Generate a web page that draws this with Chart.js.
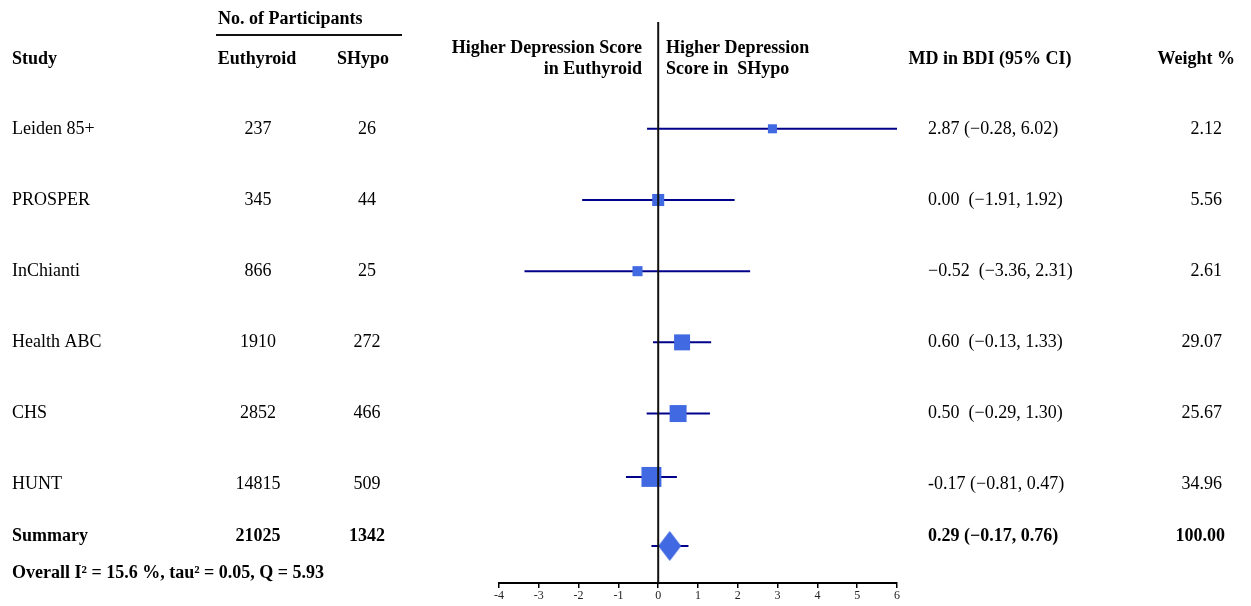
<!DOCTYPE html>
<html>
<head>
<meta charset="utf-8">
<script src="https://cdn.jsdelivr.net/npm/chart.js@4"></script>
<style>
  body { margin: 0; background: #fff; }
  canvas { display: block; }
</style>
</head>
<body>
<canvas id="myChart" width="1251" height="606"></canvas>
<script>
// data
const studies = ['Leiden 85+', 'PROSPER', 'InChianti', 'Health ABC', 'CHS', 'HUNT'];
const euthyroid = [237, 345, 866, 1910, 2852, 14815];
const shypo = [26, 44, 25, 272, 466, 509];
const md = [2.87, 0.00, -0.52, 0.60, 0.50, -0.17];
const lower = [-0.28, -1.91, -3.36, -0.13, -0.29, -0.81];
const upper = [6.02, 1.92, 2.31, 1.33, 1.30, 0.47];
const weight = ['2.12', '5.56', '2.61', '29.07', '25.67', '34.96'];
const ciLabels = ['2.87 (\u22120.28, 6.02)', '0.00  (\u22121.91, 1.92)', '\u22120.52  (\u22123.36, 2.31)',
                  '0.60  (\u22120.13, 1.33)', '0.50  (\u22120.29, 1.30)', '-0.17 (\u22120.81, 0.47)'];
const summary = { euthyroid: 21025, shypo: 1342, md: 0.29, lower: -0.17, upper: 0.76, label: '0.29 (\u22120.17, 0.76)', weight: '100.00' };
const heterogeneity = 'Overall I\u00b2 = 15.6 %, tau\u00b2 = 0.05, Q = 5.93';
const xTicks = [-4, -3, -2, -1, 0, 1, 2, 3, 4, 5, 6];

// row positions (marks and text are not quite aligned in the original)
const textRows = [0, 1, 2, 3, 4, 5];
const markRows = [0, 1, 2, 3, 4, 4.89];
const summaryTextRow = 5.73;
const summaryMarkRow = 5.86;
const squareRadius = [6.4, 8.5, 7.1, 11.3, 12, 14.1];

const navy = '#00008B';
const blue = '#4169E1';
const serif = '"Liberation Serif", "Times New Roman", serif';

// diamond marker for the summary
const diamond = document.createElement('canvas');
diamond.width = 23; diamond.height = 30;
(function () {
  const c = diamond.getContext('2d');
  c.fillStyle = blue;
  c.beginPath();
  c.moveTo(11.5, 0); c.lineTo(23, 15); c.lineTo(11.5, 30); c.lineTo(0, 15);
  c.closePath(); c.fill();
})();

const ciSets = studies.map((s, i) => ({
  type: 'line',
  data: [{ x: lower[i], y: markRows[i] }, { x: upper[i], y: markRows[i] }],
  borderColor: navy, borderWidth: 2, pointRadius: 0, order: 2
}));
ciSets.push({
  type: 'line',
  data: [{ x: summary.lower, y: summaryMarkRow }, { x: summary.upper, y: summaryMarkRow }],
  borderColor: navy, borderWidth: 2, pointRadius: 0, order: 2
});

const tablePlugin = {
  id: 'table',
  afterDatasetsDraw(chart) {
    const ctx = chart.ctx;
    const x = chart.scales.x, y = chart.scales.y;
    const area = chart.chartArea;
    ctx.save();
    // zero line
    ctx.strokeStyle = '#111';
    ctx.lineWidth = 2;
    ctx.beginPath();
    ctx.moveTo(x.getPixelForValue(0), area.top);
    ctx.lineTo(x.getPixelForValue(0), area.bottom);
    ctx.stroke();

    ctx.fillStyle = '#000';
    ctx.textBaseline = 'middle';
    const txt = (s, px, py, align, bold) => {
      ctx.font = (bold ? 'bold ' : '') + '18px ' + serif;
      ctx.textAlign = align;
      ctx.fillText(s, px, py);
    };
    // headers
    txt('No. of Participants', 218, 19, 'left', true);
    ctx.lineWidth = 2;
    ctx.beginPath(); ctx.moveTo(216, 35); ctx.lineTo(402, 35); ctx.stroke();
    txt('Study', 12, 59, 'left', true);
    txt('Euthyroid', 257, 59, 'center', true);
    txt('SHypo', 363, 59, 'center', true);
    txt('Higher Depression Score', 642, 48, 'right', true);
    txt('in Euthyroid', 642, 69, 'right', true);
    txt('Higher Depression', 666, 48, 'left', true);
    txt('Score in  SHypo', 666, 69, 'left', true);
    txt('MD in BDI (95% CI)', 990, 59, 'center', true);
    txt('Weight %', 1235, 59, 'right', true);

    // study rows
    studies.forEach((s, i) => {
      const py = y.getPixelForValue(textRows[i]);
      txt(s, 12, py, 'left', false);
      txt(String(euthyroid[i]), 258, py, 'center', false);
      txt(String(shypo[i]), 367, py, 'center', false);
      txt(ciLabels[i], 928, py, 'left', false);
      txt(weight[i], 1222, py, 'right', false);
    });
    const sy = y.getPixelForValue(summaryTextRow);
    txt('Summary', 12, sy, 'left', true);
    txt(String(summary.euthyroid), 258, sy, 'center', true);
    txt(String(summary.shypo), 367, sy, 'center', true);
    txt(summary.label, 928, sy, 'left', true);
    txt(summary.weight, 1225, sy, 'right', true);
    txt(heterogeneity, 12, 573, 'left', true);
    ctx.restore();
  }
};

new Chart(document.getElementById('myChart'), {
  type: 'scatter',
  data: {
    datasets: [
      {
        data: studies.map((s, i) => ({ x: md[i], y: markRows[i] })),
        pointStyle: 'rect',
        pointRadius: squareRadius,
        backgroundColor: blue,
        borderWidth: 0,
        order: 1
      },
      {
        data: [{ x: summary.md, y: summaryMarkRow }],
        pointStyle: diamond,
        pointRadius: 15,
        order: 0
      },
      ...ciSets
    ]
  },
  options: {
    responsive: false,
    animation: false,
    layout: { padding: { left: 499, right: 354, top: 22, bottom: 0 } },
    plugins: { legend: { display: false }, tooltip: { enabled: false } },
    scales: {
      x: {
        type: 'linear',
        min: -4, max: 6,
        afterBuildTicks: (scale) => { scale.ticks = xTicks.map(v => ({ value: v })); },
        afterFit: (scale) => { scale.height = 23; },
        border: { display: true, color: '#000', width: 2 },
        grid: { drawOnChartArea: false, color: '#000', tickLength: 5, lineWidth: 1.5 },
        ticks: { color: '#222', padding: 1, font: { family: serif, size: 12 } }
      },
      y: {
        type: 'linear',
        min: -1.5, max: 6.38,
        reverse: true,
        display: false
      }
    }
  },
  plugins: [tablePlugin]
});
</script>
</body>
</html>
